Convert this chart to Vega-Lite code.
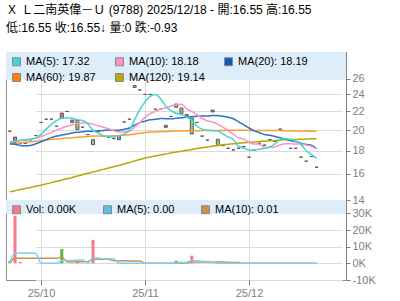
{
"$schema": "https://vega.github.io/schema/vega-lite/v6.json",
"padding": {"left": 5, "top": 3, "right": 0, "bottom": 0},
"background": "white",
"bounds": "flush",
"title": {"text": "Ｘ Ｌ二南英偉－Ｕ (9788) 2025/12/18 - 開:16.55 高:16.55", "subtitle": "低:16.55 收:16.55↓ 量:0 跌:-0.93", "anchor": "start", "frame": "group", "font": "Liberation Sans, Noto Sans CJK TC", "fontSize": 12, "fontWeight": "normal", "color": "#000000", "subtitleFont": "Liberation Sans, Noto Sans CJK TC", "subtitleFontSize": 12, "subtitleColor": "#000000", "subtitlePadding": 6, "offset": 17},
"data": {"name": "k"},
"datasets": {"k": [
{"d":"2025-09-23","o":19.9,"c":19.9,"m5":18.75,"m10":18.85,"m20":18.65,"m60":18.6,"m120":14.6,"v":1400,"vd":"up","vm5":300,"vm10":300},
{"d":"2025-09-24","o":18.8,"c":19.3,"m5":18.9,"m10":18.9,"m20":18.6,"m60":18.66,"m120":14.68,"v":28500,"vd":"down","vm5":5980,"vm10":2990},
{"d":"2025-09-25","o":18.7,"c":18.7,"m5":19.0,"m10":18.95,"m20":18.5,"m60":18.72,"m120":14.77,"v":800,"vd":"down","vm5":6140,"vm10":3070},
{"d":"2025-09-26","o":18.7,"c":18.7,"m5":19.05,"m10":19.0,"m20":18.47,"m60":18.79,"m120":14.85,"v":0,"vd":"flat","vm5":6140,"vm10":3070},
{"d":"2025-09-29","o":18.9,"c":18.9,"m5":19.1,"m10":19.1,"m20":18.5,"m60":18.85,"m120":14.93,"v":0,"vd":"flat","vm5":6140,"vm10":3070},
{"d":"2025-09-30","o":19.45,"c":19.45,"m5":19.2,"m10":19.2,"m20":18.65,"m60":18.9,"m120":15.02,"v":0,"vd":"flat","vm5":5860,"vm10":3070},
{"d":"2025-10-02","o":20.8,"c":20.8,"m5":19.55,"m10":19.35,"m20":18.85,"m60":18.96,"m120":15.1,"v":0,"vd":"flat","vm5":160,"vm10":3070},
{"d":"2025-10-03","o":21.15,"c":21.15,"m5":20.1,"m10":19.55,"m20":19.05,"m60":19.02,"m120":15.2,"v":0,"vd":"flat","vm5":0,"vm10":3070},
{"d":"2025-10-06","o":21.15,"c":21.15,"m5":20.6,"m10":19.75,"m20":19.25,"m60":19.07,"m120":15.3,"v":0,"vd":"flat","vm5":0,"vm10":3070},
{"d":"2025-10-08","o":20.4,"c":20.4,"m5":21.0,"m10":20.0,"m20":19.4,"m60":19.12,"m120":15.4,"v":0,"vd":"flat","vm5":0,"vm10":3070},
{"d":"2025-10-09","o":21.27,"c":21.82,"m5":21.25,"m10":20.2,"m20":19.5,"m60":19.16,"m120":15.5,"v":8600,"vd":"up","vm5":1720,"vm10":3790},
{"d":"2025-10-10","o":22.0,"c":22.0,"m5":21.3,"m10":20.4,"m20":19.6,"m60":19.2,"m120":15.6,"v":0,"vd":"flat","vm5":1720,"vm10":940},
{"d":"2025-10-13","o":20.8,"c":21.05,"m5":21.25,"m10":20.55,"m20":19.7,"m60":19.24,"m120":15.71,"v":0,"vd":"flat","vm5":1720,"vm10":860},
{"d":"2025-10-14","o":21.03,"c":20.05,"m5":21.1,"m10":20.65,"m20":19.78,"m60":19.28,"m120":15.82,"v":1600,"vd":"down","vm5":2040,"vm10":1020},
{"d":"2025-10-15","o":20.3,"c":20.3,"m5":21.0,"m10":20.75,"m20":19.83,"m60":19.32,"m120":15.93,"v":0,"vd":"flat","vm5":2040,"vm10":1020},
{"d":"2025-10-16","o":19.55,"c":19.55,"m5":20.65,"m10":20.75,"m20":19.88,"m60":19.36,"m120":16.04,"v":0,"vd":"flat","vm5":320,"vm10":1020},
{"d":"2025-10-17","o":19.05,"c":18.57,"m5":20.0,"m10":20.6,"m20":19.9,"m60":19.4,"m120":16.15,"v":14100,"vd":"down","vm5":3140,"vm10":2430},
{"d":"2025-10-20","o":19.85,"c":19.85,"m5":19.7,"m10":20.45,"m20":19.93,"m60":19.4,"m120":16.26,"v":0,"vd":"flat","vm5":3140,"vm10":2430},
{"d":"2025-10-21","o":19.4,"c":19.4,"m5":19.45,"m10":20.3,"m20":19.97,"m60":19.4,"m120":16.37,"v":0,"vd":"flat","vm5":2820,"vm10":2430},
{"d":"2025-10-22","o":19.3,"c":19.3,"m5":19.35,"m10":20.15,"m20":20.02,"m60":19.41,"m120":16.48,"v":0,"vd":"flat","vm5":2820,"vm10":2430},
{"d":"2025-10-23","o":19.15,"c":19.15,"m5":19.3,"m10":19.95,"m20":19.98,"m60":19.43,"m120":16.59,"v":0,"vd":"flat","vm5":2820,"vm10":1570},
{"d":"2025-10-24","o":19.05,"c":19.38,"m5":19.4,"m10":19.8,"m20":19.99,"m60":19.46,"m120":16.7,"v":0,"vd":"flat","vm5":0,"vm10":1570},
{"d":"2025-10-27","o":20.85,"c":20.85,"m5":19.6,"m10":19.8,"m20":20.09,"m60":19.5,"m120":16.83,"v":0,"vd":"flat","vm5":0,"vm10":1570},
{"d":"2025-10-28","o":21.15,"c":21.15,"m5":20.0,"m10":19.85,"m20":20.22,"m60":19.53,"m120":16.96,"v":0,"vd":"flat","vm5":0,"vm10":1410},
{"d":"2025-10-30","o":25.12,"c":24.87,"m5":21.1,"m10":20.3,"m20":20.52,"m60":19.6,"m120":17.09,"v":0,"vd":"flat","vm5":0,"vm10":1410},
{"d":"2025-10-31","o":24.55,"c":24.55,"m5":22.2,"m10":20.8,"m20":20.78,"m60":19.68,"m120":17.22,"v":0,"vd":"flat","vm5":0,"vm10":1410},
{"d":"2025-11-03","o":24.0,"c":24.0,"m5":23.1,"m10":21.35,"m20":20.94,"m60":19.76,"m120":17.35,"v":0,"vd":"flat","vm5":0,"vm10":0},
{"d":"2025-11-04","o":24.0,"c":24.0,"m5":23.75,"m10":21.75,"m20":21.08,"m60":19.8,"m120":17.44,"v":0,"vd":"flat","vm5":0,"vm10":0},
{"d":"2025-11-05","o":22.25,"c":22.25,"m5":24.0,"m10":22.0,"m20":21.14,"m60":19.82,"m120":17.53,"v":0,"vd":"flat","vm5":0,"vm10":0},
{"d":"2025-11-06","o":22.25,"c":22.25,"m5":23.45,"m10":22.28,"m20":21.23,"m60":19.84,"m120":17.62,"v":0,"vd":"flat","vm5":0,"vm10":0},
{"d":"2025-11-07","o":20.29,"c":20.5,"m5":22.6,"m10":22.4,"m20":21.2,"m60":19.86,"m120":17.71,"v":0,"vd":"flat","vm5":0,"vm10":0},
{"d":"2025-11-10","o":21.45,"c":21.45,"m5":22.1,"m10":22.61,"m20":21.2,"m60":19.88,"m120":17.8,"v":0,"vd":"flat","vm5":0,"vm10":0},
{"d":"2025-11-11","o":22.85,"c":22.47,"m5":21.8,"m10":22.78,"m20":21.25,"m60":19.9,"m120":17.88,"v":1600,"vd":"up","vm5":320,"vm10":160},
{"d":"2025-11-12","o":22.39,"c":21.74,"m5":21.65,"m10":22.83,"m20":21.3,"m60":19.91,"m120":17.96,"v":800,"vd":"down","vm5":480,"vm10":240},
{"d":"2025-11-13","o":21.4,"c":21.66,"m5":21.4,"m10":22.3,"m20":21.38,"m60":19.92,"m120":18.04,"v":800,"vd":"down","vm5":640,"vm10":320},
{"d":"2025-11-14","o":21.27,"c":19.61,"m5":21.0,"m10":22.0,"m20":21.4,"m60":19.93,"m120":18.12,"v":4600,"vd":"down","vm5":1560,"vm10":780},
{"d":"2025-11-17","o":20.8,"c":20.8,"m5":20.4,"m10":21.66,"m20":21.5,"m60":19.94,"m120":18.2,"v":0,"vd":"flat","vm5":1560,"vm10":780},
{"d":"2025-11-18","o":19.4,"c":19.4,"m5":20.1,"m10":21.25,"m20":21.5,"m60":19.95,"m120":18.28,"v":0,"vd":"flat","vm5":1240,"vm10":780},
{"d":"2025-11-19","o":19.0,"c":19.0,"m5":20.0,"m10":20.95,"m20":21.5,"m60":19.95,"m120":18.35,"v":0,"vd":"flat","vm5":1080,"vm10":780},
{"d":"2025-11-20","o":21.95,"c":22.15,"m5":19.95,"m10":20.84,"m20":21.56,"m60":19.96,"m120":18.43,"v":0,"vd":"flat","vm5":920,"vm10":780},
{"d":"2025-11-21","o":19.09,"c":18.48,"m5":19.9,"m10":20.6,"m20":21.53,"m60":19.97,"m120":18.5,"v":0,"vd":"flat","vm5":0,"vm10":780},
{"d":"2025-11-24","o":18.48,"c":18.48,"m5":19.6,"m10":20.3,"m20":21.48,"m60":19.97,"m120":18.55,"v":0,"vd":"flat","vm5":0,"vm10":780},
{"d":"2025-11-25","o":18.23,"c":18.23,"m5":19.3,"m10":19.92,"m20":21.35,"m60":19.98,"m120":18.6,"v":0,"vd":"flat","vm5":0,"vm10":620},
{"d":"2025-11-26","o":18.07,"c":18.07,"m5":19.06,"m10":19.56,"m20":21.2,"m60":19.98,"m120":18.65,"v":0,"vd":"flat","vm5":0,"vm10":540},
{"d":"2025-11-27","o":18.23,"c":18.23,"m5":18.4,"m10":19.23,"m20":20.86,"m60":19.98,"m120":18.7,"v":0,"vd":"flat","vm5":0,"vm10":460},
{"d":"2025-11-28","o":18.4,"c":18.4,"m5":18.25,"m10":19.08,"m20":20.55,"m60":19.98,"m120":18.75,"v":0,"vd":"flat","vm5":0,"vm10":0},
{"d":"2025-12-01","o":17.42,"c":17.42,"m5":18.06,"m10":18.77,"m20":20.22,"m60":19.97,"m120":18.79,"v":0,"vd":"flat","vm5":0,"vm10":0},
{"d":"2025-12-02","o":18.07,"c":18.07,"m5":18.04,"m10":18.64,"m20":19.92,"m60":19.97,"m120":18.83,"v":0,"vd":"flat","vm5":0,"vm10":0},
{"d":"2025-12-03","o":18.7,"c":18.7,"m5":18.16,"m10":18.61,"m20":19.74,"m60":19.97,"m120":18.87,"v":0,"vd":"flat","vm5":0,"vm10":0},
{"d":"2025-12-04","o":18.53,"c":18.53,"m5":18.22,"m10":18.3,"m20":19.55,"m60":19.96,"m120":18.91,"v":0,"vd":"flat","vm5":0,"vm10":0},
{"d":"2025-12-05","o":19.05,"c":19.05,"m5":18.35,"m10":18.32,"m20":19.48,"m60":19.96,"m120":18.95,"v":0,"vd":"flat","vm5":0,"vm10":0},
{"d":"2025-12-08","o":18.9,"c":18.9,"m5":18.65,"m10":18.36,"m20":19.35,"m60":19.95,"m120":18.98,"v":0,"vd":"flat","vm5":0,"vm10":0},
{"d":"2025-12-09","o":20.1,"c":20.1,"m5":19.05,"m10":18.55,"m20":19.23,"m60":19.95,"m120":19.0,"v":0,"vd":"flat","vm5":0,"vm10":0},
{"d":"2025-12-10","o":19.1,"c":19.1,"m5":19.15,"m10":18.65,"m20":19.1,"m60":19.94,"m120":19.03,"v":0,"vd":"flat","vm5":0,"vm10":0},
{"d":"2025-12-11","o":18.23,"c":18.23,"m5":19.1,"m10":18.65,"m20":18.94,"m60":19.93,"m120":19.05,"v":0,"vd":"flat","vm5":0,"vm10":0},
{"d":"2025-12-12","o":18.23,"c":18.23,"m5":18.9,"m10":18.63,"m20":18.87,"m60":19.92,"m120":19.07,"v":0,"vd":"flat","vm5":0,"vm10":0},
{"d":"2025-12-15","o":17.42,"c":17.42,"m5":18.6,"m10":18.63,"m20":18.7,"m60":19.91,"m120":19.09,"v":0,"vd":"flat","vm5":0,"vm10":0},
{"d":"2025-12-16","o":17.07,"c":17.07,"m5":18.0,"m10":18.53,"m20":18.58,"m60":19.9,"m120":19.11,"v":0,"vd":"flat","vm5":0,"vm10":0},
{"d":"2025-12-17","o":17.48,"c":17.48,"m5":17.68,"m10":18.41,"m20":18.51,"m60":19.89,"m120":19.13,"v":0,"vd":"flat","vm5":0,"vm10":0},
{"d":"2025-12-18","o":16.55,"c":16.55,"m5":17.32,"m10":18.18,"m20":18.19,"m60":19.87,"m120":19.14,"v":0,"vd":"flat","vm5":0,"vm10":10}
]},
"spacing": 0,
"resolve": {"scale": {"x": "independent", "y": "independent", "color": "independent", "stroke": "independent"}, "legend": {"color": "independent", "stroke": "independent"}},
"vconcat": [
{
"width": 340, "height": 148,
"layer": [
{"data": {"values": [{"b": 1}]}, "mark": {"type": "rect", "fill": "#ddeefa"}, "encoding": {"y": {"datum": 29.8, "type": "quantitative", "axis": {"orient": "right", "values": [14,16,18,20,22,24,26], "format": "d", "title": null, "grid": true, "tickSize": 4, "labelPadding": 2, "labelOverlap": false, "domain": true}}, "y2": {"datum": 25.83}}},
{"mark": {"type": "bar", "width": 3, "stroke": "#555555", "strokeWidth": 1},
 "encoding": {
  "x": {"field": "d", "type": "ordinal", "scale": {"type": "point", "range": [3.8, 310.6], "padding": 0}, "axis": {"values": ["2025-10-02","2025-11-03","2025-12-01"], "labels": false, "ticks": false, "domain": false, "grid": true, "title": null}},
  "y": {"field": "o", "type": "quantitative", "scale": {"type": "log", "domain": [14, 29.8], "nice": false, "zero": false}, "axis": {"orient": "right", "values": [14,16,18,20,22,24,26], "format": "d", "title": null, "grid": true, "tickSize": 4, "labelPadding": 2, "labelOverlap": false, "domain": true}},
  "y2": {"field": "c"},
  "color": {"condition": [{"test": "datum.c > datum.o", "value": "#e8707f"}, {"test": "datum.c < datum.o", "value": "#96d26e"}], "value": "#555555"}
 }},
{"transform": [{"fold": ["m120","m60","m20","m10","m5"], "as": ["s","val"]}],
 "mark": {"type": "line", "interpolate": "monotone", "strokeWidth": 1.5},
 "encoding": {
  "x": {"field": "d", "type": "ordinal", "scale": {"type": "point", "range": [3.8, 310.6], "padding": 0}, "axis": {"values": ["2025-10-02","2025-11-03","2025-12-01"], "labels": false, "ticks": false, "domain": false, "grid": true, "title": null}},
  "y": {"field": "val", "type": "quantitative", "axis": {"orient": "right", "values": [14,16,18,20,22,24,26], "format": "d", "title": null, "grid": true, "tickSize": 4, "labelPadding": 2, "labelOverlap": false, "domain": true}},
  "stroke": {"field": "s", "type": "nominal", "scale": {"domain": ["m120","m60","m20","m10","m5"], "range": ["#b8a900","#ff9a30","#2a74c6","#ff90c8","#45d4d4"]}, "legend": null}
 }},
{"data": {"values": [{"s": "m5"}]}, "mark": {"type": "square", "size": 0, "filled": true},
 "encoding": {"color": {"field": "s", "type": "nominal", "scale": {"domain": ["m5","m10","m20","m60","m120"], "range": ["#45d4d4","#ff90c8","#0b5cb5","#ff7f0e","#b8a900"]},
  "legend": {"title": null, "orient": "none", "legendX": 2, "legendY": 1, "zindex": 5, "direction": "horizontal", "columns": 3, "gridAlign": "each", "symbolType": "square", "symbolSize": 64, "symbolStrokeColor": "#888888", "symbolStrokeWidth": 1, "symbolOpacity": 1, "labelFontSize": 11, "labelFont": "Liberation Sans", "labelColor": "#000000", "labelOffset": 4, "columnPadding": 17, "rowPadding": 3, "padding": 3,
   "labelExpr": "datum.label == 'm5' ? 'MA(5): 17.32' : datum.label == 'm10' ? 'MA(10): 18.18' : datum.label == 'm20' ? 'MA(20): 18.19' : datum.label == 'm60' ? 'MA(60): 19.87' : 'MA(120): 19.14'"}}}}
]
},
{
"width": 340, "height": 80,
"layer": [
{"data": {"values": [{"b": 1}]}, "mark": {"type": "rect", "fill": "#ddeefa"}, "encoding": {"y": {"datum": 38000, "type": "quantitative", "axis": {"orient": "right", "values": [-10000,0,10000,20000,30000], "labelExpr": "(datum.value/1000) + 'K'", "title": null, "grid": true, "tickSize": 4, "labelPadding": 2, "labelOverlap": false, "domain": true}}, "y2": {"datum": 29600}}},
{"mark": {"type": "bar", "width": 3},
 "encoding": {
  "x": {"field": "d", "type": "ordinal", "scale": {"type": "point", "range": [3.8, 310.6], "padding": 0}, "axis": {"values": ["2025-10-02","2025-11-03","2025-12-01"], "labelExpr": "'25/' + slice(datum.value, 5, 7)", "labelAngle": 0, "domain": false, "grid": true, "title": null, "tickSize": 5, "labelPadding": 2}},
  "y": {"field": "v", "type": "quantitative", "scale": {"domain": [-10000, 38000], "nice": false}, "axis": {"orient": "right", "values": [-10000,0,10000,20000,30000], "labelExpr": "(datum.value/1000) + 'K'", "title": null, "grid": true, "tickSize": 4, "labelPadding": 2, "labelOverlap": false, "domain": true}},
  "color": {"condition": {"test": "datum.vd == 'up'", "value": "#5cb545"}, "value": "#f47b87"}
 }},
{"transform": [{"fold": ["vm10","vm5"], "as": ["s","val"]}],
 "mark": {"type": "line", "interpolate": "monotone", "strokeWidth": 1.5},
 "encoding": {
  "x": {"field": "d", "type": "ordinal", "scale": {"type": "point", "range": [3.8, 310.6], "padding": 0}, "axis": {"values": ["2025-10-02","2025-11-03","2025-12-01"], "labelExpr": "'25/' + slice(datum.value, 5, 7)", "labelAngle": 0, "domain": false, "grid": true, "title": null, "tickSize": 5, "labelPadding": 2}},
  "y": {"field": "val", "type": "quantitative", "axis": {"orient": "right", "values": [-10000,0,10000,20000,30000], "labelExpr": "(datum.value/1000) + 'K'", "title": null, "grid": true, "tickSize": 4, "labelPadding": 2, "labelOverlap": false, "domain": true}},
  "stroke": {"field": "s", "type": "nominal", "scale": {"domain": ["vm10","vm5"], "range": ["#c8914d","#7cd0f4"]}, "legend": null}
 }},
{"data": {"values": [{"s": "vol"}]}, "mark": {"type": "square", "size": 0, "filled": true},
 "encoding": {"color": {"field": "s", "type": "nominal", "scale": {"domain": ["vol","vm5","vm10"], "range": ["#f47b87","#5bc0eb","#c8914d"]},
  "legend": {"title": null, "orient": "none", "legendX": 2, "legendY": 1, "zindex": 5, "direction": "horizontal", "columns": 3, "gridAlign": "each", "symbolType": "square", "symbolSize": 64, "symbolStrokeColor": "#888888", "symbolStrokeWidth": 1, "symbolOpacity": 1, "labelFontSize": 11, "labelFont": "Liberation Sans", "labelColor": "#000000", "labelOffset": 4, "columnPadding": 24, "rowPadding": 3, "padding": 3,
   "labelExpr": "datum.label == 'vol' ? 'Vol: 0.00K' : datum.label == 'vm5' ? 'MA(5): 0.00' : 'MA(10): 0.01'"}}}}
]
}
],
"config": {
 "view": {"stroke": "#8c8c8c", "strokeWidth": 1},
 "axis": {"labelFont": "Liberation Sans", "labelFontSize": 11, "labelColor": "#808080", "gridColor": "#dadada", "gridWidth": 1, "tickColor": "#808080", "domainColor": "#808080"},
 "legend": {"labelFont": "Liberation Sans", "labelFontSize": 11, "labelColor": "#000000"}
}
}
